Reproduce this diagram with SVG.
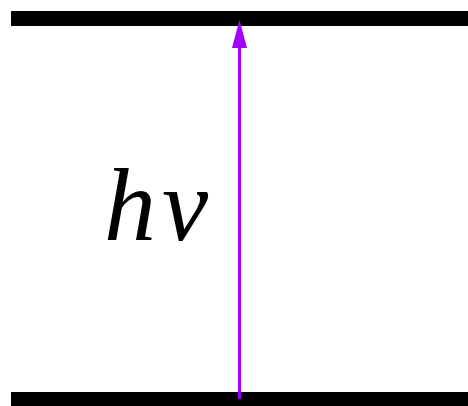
<svg xmlns="http://www.w3.org/2000/svg" width="468" height="406" viewBox="0 0 468 406">
<style>
.level{stroke:#000;stroke-width:15;fill:none}
.photon{stroke:#a400ff;stroke-width:3;fill:none}
.head{fill:#a400ff}
.label{font-family:"Liberation Serif","DejaVu Serif",serif;font-style:italic;font-size:104px;fill:#000;letter-spacing:6px}
</style>
<g id="upper-level"><line class="level" x1="11" y1="18.5" x2="468" y2="18.5"/></g>
<g id="lower-level"><line class="level" x1="11" y1="399.5" x2="468" y2="399.5"/></g>
<g id="connectors">
<line class="photon" x1="239.5" y1="399" x2="239.5" y2="46"/>
<path class="head" d="M239.5 20 L247 48 L232 48 Z"/>
</g>
<g id="label"><text class="label" x="104" y="240">hν</text></g>
</svg>
